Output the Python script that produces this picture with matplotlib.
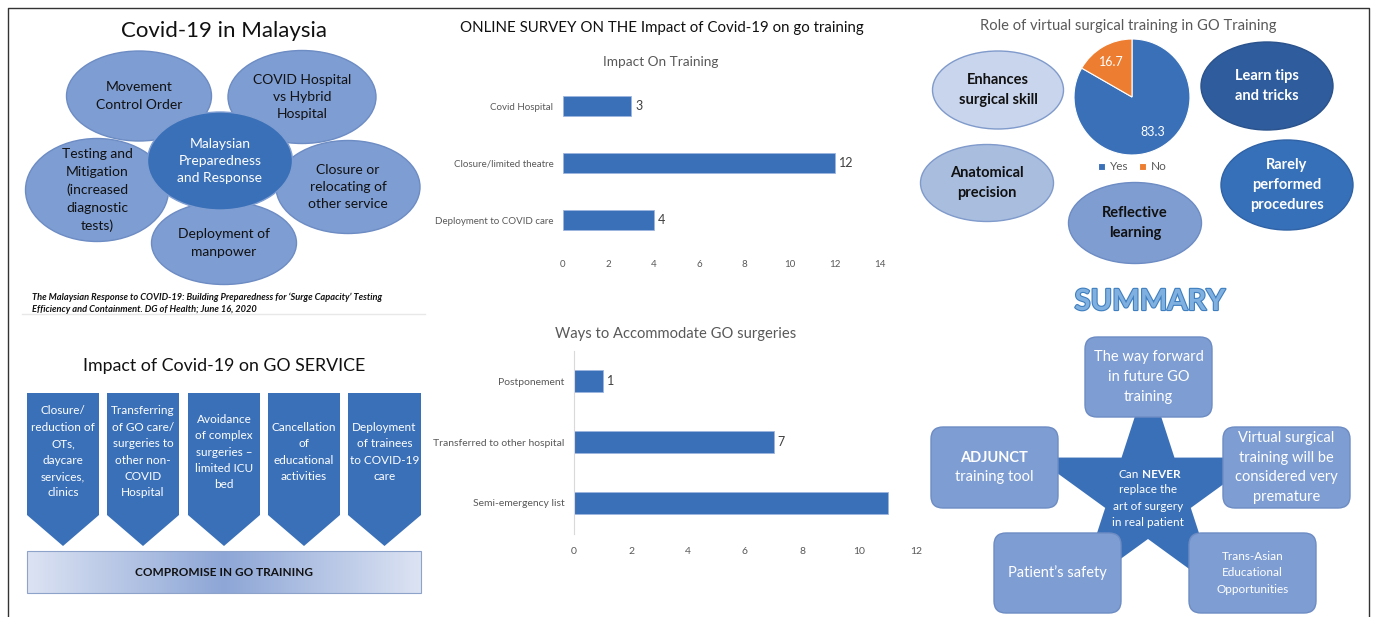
import numpy as np
import matplotlib.pyplot as plt
import matplotlib.patheffects as pe
from matplotlib.patches import Ellipse, Polygon, FancyBboxPatch, Rectangle
from matplotlib.colors import LinearSegmentedColormap

plt.rcParams['font.family'] = ['Lato', 'DejaVu Sans']

W, H = 1375, 617

# ---- data ----
impact_cats = ["Covid Hospital", "Closure/limited theatre", "Deployment to COVID care"]
impact_vals = [3, 12, 4]

ways_cats = ["Postponement", "Transferred to other hospital", "Semi-emergency list"]
ways_vals = [1, 7, 11]
ways_shown = ["1", "7", ""]  # no label on the last bar in the original

pie_labels = ["Yes", "No"]
pie_vals = [83.3, 16.7]

malaysia_items = ["Movement\nControl Order", "COVID Hospital\nvs Hybrid\nHospital",
                  "Testing and\nMitigation\n(increased\ndiagnostic\ntests)",
                  "Closure or\nrelocating of\nother service", "Deployment of\nmanpower"]
malaysia_center = "Malaysian\nPreparedness\nand Response"

role_items = ["Enhances\nsurgical skill", "Learn tips\nand tricks", "Anatomical\nprecision",
              "Reflective\nlearning", "Rarely\nperformed\nprocedures"]

service_items = ["Closure/\nreduction of\nOTs,\ndaycare\nservices,\nclinics",
                 "Transferring\nof GO care/\nsurgeries to\nother non-\nCOVID\nHospital",
                 "Avoidance\nof complex\nsurgeries \u2013\nlimited ICU\nbed",
                 "Cancellation\nof\neducational\nactivities",
                 "Deployment\nof trainees\nto COVID-19\ncare"]

summary_items = ["The way forward\nin future GO\ntraining", None,
                 "Virtual surgical\ntraining will be\nconsidered very\npremature",
                 "Patient\u2019s safety", "Trans-Asian\nEducational\nOpportunities"]

BLUE = '#3A70B8'
LIGHT = '#7E9DD2'
GREY = '#595959'

fig = plt.figure(figsize=(W / 100, H / 100), dpi=100)
fig.patch.set_facecolor('white')
ax = fig.add_axes([0, 0, 1, 1])
ax.set_xlim(0, W)
ax.set_ylim(H, 0)
ax.axis('off')


def px_axes(x0, y0, x1, y1):
    return fig.add_axes([x0 / W, 1 - y1 / H, (x1 - x0) / W, (y1 - y0) / H])


# frame
ax.plot([8, 8, 1369, 1369], [617, 8, 8, 617], color='#333333', lw=1)

# ---- panel 1: Covid-19 in Malaysia ----
ax.text(224, 31, "Covid-19 in Malaysia", ha='center', va='center', fontsize=16, color='#111111')
ell_pos = [(139, 96, 145, 90), (302, 97, 148, 93), (97, 190, 143, 103),
           (348, 187, 144, 93), (224, 243, 145, 83)]
for txt, (cx, cy, w, h) in zip(malaysia_items, ell_pos):
    ax.add_patch(Ellipse((cx, cy), w, h, facecolor=LIGHT, edgecolor='#6D8CC4', lw=1, zorder=2))
    ax.text(cx, cy, txt, ha='center', va='center', fontsize=10, linespacing=1.55,
            color='#111111', zorder=4)
ax.add_patch(Ellipse((220, 161), 145, 98, facecolor=BLUE, edgecolor='#7E9DD2', lw=1, zorder=3))
ax.text(220, 161, malaysia_center, ha='center', va='center', fontsize=10, linespacing=1.55,
        color='white', zorder=4)
ax.text(32, 297, "The Malaysian Response to COVID-19: Building Preparedness for \u2018Surge Capacity\u2019 Testing",
        fontsize=6.7, style='italic', weight='bold', va='center', color='#111111')
ax.text(32, 309, "Efficiency and Containment. DG of Health; June 16, 2020",
        fontsize=6.7, style='italic', weight='bold', va='center', color='#111111')
ax.plot([22, 425], [314, 314], color='#e8e8e8', lw=1)

# ---- panel 2: Impact on training ----
ax.text(662, 28, "ONLINE SURVEY ON THE Impact of Covid-19 on go training", ha='center',
        va='center', fontsize=10.8, color='#111111')
ax.text(661, 62, "Impact On Training", ha='center', va='center', fontsize=9.8, color=GREY)

b1 = px_axes(563, 77.5, 880, 248.5)
bars = b1.barh(impact_cats, impact_vals, height=0.35, color=BLUE, edgecolor='#9db5e0', lw=0.6)
b1.bar_label(bars, padding=3, fontsize=9, color='#404040')
b1.set_xlim(0, 14)
b1.set_ylim(2.5, -0.5)
b1.set_xticks(range(0, 15, 2))
b1.tick_params(length=0, labelsize=7, labelcolor=GREY, pad=8)
b1.tick_params(axis='y', pad=7)
for s in b1.spines.values():
    s.set_visible(False)
b1.set_facecolor('none')

# ---- panel 3: virtual surgical training ----
ax.text(1128, 26, "Role of virtual surgical training in GO Training", ha='center', va='center',
        fontsize=10.6, color=GREY)
role_pos = [(998, 90, 131, 78), (1267, 86, 132, 88), (987, 183, 133, 77),
            (1135, 223, 133, 81), (1287, 185, 132, 90)]
role_face = ['#C9D5EC', '#2F5C9C', '#A9BEDF', '#7F9DD1', '#3670B9']
role_edge = ['#7F9ACB', '#2A528C', '#7F9ACB', '#6D8CC4', '#2F62A6']
role_txt = ['#111111', 'white', '#111111', '#111111', 'white']
for txt, (cx, cy, w, h), fc, ec, tc in zip(role_items, role_pos, role_face, role_edge, role_txt):
    ax.add_patch(Ellipse((cx, cy), w, h, facecolor=fc, edgecolor=ec, lw=1, zorder=2))
    ax.text(cx, cy, txt, ha='center', va='center', fontsize=10.5, weight='bold',
            linespacing=1.5, color=tc, zorder=4)

pa = px_axes(1132 - 58, 39, 1132 + 58, 155)
wedges, _, autotexts = pa.pie(pie_vals, colors=[BLUE, '#ED7D31'], startangle=90,
                              counterclock=False, autopct='%.1f', pctdistance=0.7,
                              wedgeprops=dict(edgecolor='white', linewidth=0.8))
for t in autotexts:
    t.set_color('white')
    t.set_fontsize(9)
pa.set_xlim(-1, 1)
pa.set_ylim(-1, 1)
pa.set_aspect('equal')
fig.legend(wedges, pie_labels, loc='center', bbox_to_anchor=(1132 / W, 1 - 167 / H),
           ncol=2, frameon=False, fontsize=8.5, handlelength=0.6, handleheight=0.6,
           handletextpad=0.4, columnspacing=0.9, labelcolor=GREY)

# ---- panel 4: impact on GO service ----
ax.text(224, 366, "Impact of Covid-19 on GO SERVICE", ha='center', va='center',
        fontsize=12.8, color='#111111')
chev_x = [(27, 99), (107, 179), (188, 260), (268, 340), (348, 421)]
for txt, (x0, x1) in zip(service_items, chev_x):
    xm = (x0 + x1) / 2
    ax.add_patch(Polygon([(x0, 393), (x1, 393), (x1, 515), (xm, 546), (x0, 515)],
                         closed=True, facecolor=BLUE, edgecolor='none', zorder=2))
    ax.text(xm, 452, txt, ha='center', va='center', fontsize=8.5, linespacing=1.6,
            color='white', zorder=3)
grad = LinearSegmentedColormap.from_list('g', ['#DCE3F3', '#8DA6D6', '#DCE3F3'])
ax.imshow(np.linspace(0, 1, 256)[None, :], cmap=grad, aspect='auto',
          extent=(27, 421, 593, 551), zorder=1)
ax.add_patch(Rectangle((27, 551), 394, 42, facecolor='none', edgecolor='#8EA3C9', lw=0.8, zorder=2))
ax.text(224, 572, "COMPROMISE IN GO TRAINING", ha='center', va='center', fontsize=8.5,
        weight='bold', color='#111111', zorder=3)

# ---- panel 5: ways to accommodate ----
ax.text(676, 334, "Ways to Accommodate GO surgeries", ha='center', va='center',
        fontsize=10.6, color=GREY)
b2 = px_axes(574, 350.5, 916, 533.5)
bars2 = b2.barh(ways_cats, ways_vals, height=0.35, color=BLUE, edgecolor='#9db5e0', lw=0.6)
b2.bar_label(bars2, labels=ways_shown, padding=3, fontsize=9, color='#404040')
b2.set_xlim(0, 12)
b2.set_ylim(2.5, -0.5)
b2.set_xticks(range(0, 13, 2))
b2.tick_params(length=0, labelsize=7.5, labelcolor=GREY, pad=10)
b2.tick_params(axis='y', pad=7)
for k, s in b2.spines.items():
    s.set_visible(k == 'left')
b2.spines['left'].set_color('#d9d9d9')
b2.set_facecolor('none')

# ---- panel 6: summary ----
ax.text(1150, 302, "SUMMARY", ha='center', va='center', fontsize=21, weight='bold',
        color='#7FB0E0', path_effects=[pe.withStroke(linewidth=1.6, foreground='#3F7FC0')])
cx, cy, R, r = 1148, 494, 118, 45
ang = np.deg2rad(90 + 36 * np.arange(10))
rad = np.where(np.arange(10) % 2 == 0, R, r)
ax.add_patch(Polygon(np.c_[cx + rad * np.cos(ang), cy - rad * np.sin(ang)], closed=True,
                     facecolor=BLUE, edgecolor='none', zorder=2))
ax.text(1139, 474, "Can", ha='right', va='center', fontsize=8.5, color='white', zorder=4)
ax.text(1142, 474, "NEVER", ha='left', va='center', fontsize=8.5, weight='bold',
        color='white', zorder=4)
ax.text(1148, 506, "replace the\nart of surgery\nin real patient", ha='center', va='center',
        fontsize=8.5, linespacing=1.65, color='white', zorder=4)

box_pos = [(1085, 337, 1212, 417), (931, 427, 1058, 508), (1223, 427, 1350, 508),
           (994, 533, 1121, 613), (1189, 533, 1316, 613)]
box_fs = [10.5, 10.5, 10.5, 10.5, 8.5]
box_ls = [1.5, 1.5, 1.5, 1.5, 1.65]
for txt, (x0, y0, x1, y1), fs, ls in zip(summary_items, box_pos, box_fs, box_ls):
    ax.add_patch(FancyBboxPatch((x0, y0), x1 - x0, y1 - y0,
                                boxstyle="round,pad=0,rounding_size=12",
                                facecolor=LIGHT, edgecolor='#6D8CC4', lw=1, zorder=3))
    if txt:
        ax.text((x0 + x1) / 2, (y0 + y1) / 2, txt, ha='center', va='center', fontsize=fs,
                linespacing=ls, color='white', zorder=4)
ax.text(994, 458, "ADJUNCT", ha='center', va='center', fontsize=10.5, weight='bold',
        color='white', zorder=4)
ax.text(994, 477, "training tool", ha='center', va='center', fontsize=10.5,
        color='white', zorder=4)

ax.set_xlim(0, W)
ax.set_ylim(H, 0)
fig.savefig('out.png', dpi=100)
